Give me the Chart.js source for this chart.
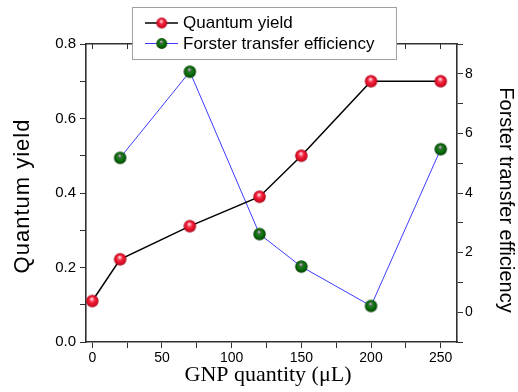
<!DOCTYPE html>
<html>
<head>
<meta charset="utf-8">
<script src="https://cdn.jsdelivr.net/npm/chart.js@4.4.1/dist/chart.umd.min.js"></script>
<style>
	html, body { margin: 0; padding: 0; background: #fff; }
</style>
</head>
<body>
<canvas id="chart" width="518" height="392"></canvas>
<script>
// data
const gnpQuantity = [0, 20, 70, 120, 150, 200, 250];
const quantumYield = [0.11, 0.222, 0.311, 0.39, 0.50, 0.70, 0.70];
const forsterQuantity = [20, 70, 120, 150, 200, 250];
const forsterEfficiency = [5.18, 8.07, 2.62, 1.53, 0.21, 5.47];

const xTicks = [0, 25, 50, 75, 100, 125, 150, 175, 200, 225, 250];
const xTickLabels = ['0', '', '50', '', '100', '', '150', '', '200', '', '250'];
const yTicks = [0, 0.1, 0.2, 0.3, 0.4, 0.5, 0.6, 0.7, 0.8];
const yTickLabels = ['0.0', '', '0.2', '', '0.4', '', '0.6', '', '0.8'];
const y2Ticks = [-1, 0, 1, 2, 3, 4, 5, 6, 7, 8, 9];
const y2TickLabels = ['', '0', '', '2', '', '4', '', '6', '', '8', ''];

const sans = "'Liberation Sans', Arial, sans-serif",
	serif = "'Liberation Serif', 'Times New Roman', serif",
	axisColor = '#303030';

// shaded ball marker like the Origin spheres
const ball = (r, stops) => {
	const c = document.createElement('canvas'),
		s = Math.ceil(r * 2) + 2;
	c.width = c.height = s;
	const g = c.getContext('2d'),
		m = s / 2,
		grad = g.createRadialGradient(m - r * 0.1, m - r * 0.4, 0, m, m, r);
	stops.forEach(([o, col]) => grad.addColorStop(o, col));
	g.fillStyle = grad;
	g.beginPath();
	g.arc(m, m, r, 0, Math.PI * 2);
	g.fill();
	return c;
}

const redStops = [[0, '#ffffff'], [0.2, '#ff9aa8'], [0.45, '#f2243e'], [0.85, '#d80a22'], [1, '#8a0010']],
	greenStops = [[0, '#eeeeee'], [0.2, '#7a7a7a'], [0.34, '#2c6a2c'], [0.55, '#0c7c0c'], [1, '#033d03']];

const redBall = ball(6.2, redStops),
	greenBall = ball(6.2, greenStops),
	redBallSmall = ball(5.4, redStops),
	greenBallSmall = ball(5.4, greenStops);

const fixTicks = list => scale => { scale.ticks = list.map(v => ({ value: v })); };

const legendPlugin = {
	id: 'boxLegend',
	afterDraw(chart) {
		const ctx = chart.ctx;
		ctx.save();
		ctx.fillStyle = '#fff';
		ctx.fillRect(132, 7, 264, 52);
		ctx.strokeStyle = '#a0a0a0';
		ctx.lineWidth = 1;
		ctx.strokeRect(132.5, 7.5, 264, 52);

		const rows = [
			{ y: 23, line: '#000', lw: 1.5, img: redBallSmall, text: chart.data.datasets[0].label },
			{ y: 43.5, line: '#3c3cff', lw: 1, img: greenBallSmall, text: chart.data.datasets[1].label }
		];
		rows.forEach(r => {
			ctx.strokeStyle = r.line;
			ctx.lineWidth = r.lw;
			ctx.beginPath();
			ctx.moveTo(145, r.y);
			ctx.lineTo(178, r.y);
			ctx.stroke();
			ctx.drawImage(r.img, 161.7 - r.img.width / 2, r.y - r.img.height / 2);
			ctx.fillStyle = '#000';
			ctx.font = '17px ' + sans;
			ctx.textBaseline = 'middle';
			ctx.textAlign = 'left';
			ctx.fillText(r.text, 183, r.y + 0.5);
		});
		ctx.restore();
	}
};

const titlePlugin = {
	id: 'axisTitles',
	afterDraw(chart) {
		const ctx = chart.ctx;
		ctx.save();
		ctx.fillStyle = '#000';
		ctx.textAlign = 'center';
		ctx.textBaseline = 'middle';

		ctx.save();
		ctx.translate(23, 196);
		ctx.rotate(-Math.PI / 2);
		ctx.font = '22px ' + sans;
		ctx.letterSpacing = '1px';
		ctx.fillText('Quantum yield', 0, 0);
		ctx.restore();

		ctx.save();
		ctx.translate(506, 200);
		ctx.rotate(Math.PI / 2);
		ctx.font = '20px ' + sans;
		ctx.fillText('Forster transfer efficiency', 0, 0);
		ctx.restore();

		ctx.font = '22px ' + serif;
		ctx.textBaseline = 'alphabetic';
		ctx.fillText('GNP quantity (\u03BCL)', 268, 381);
		ctx.restore();
	}
};

const edge = { color: axisColor, width: 1.6 };

new Chart(document.getElementById('chart'), {
	type: 'line',
	data: {
		datasets: [{
			label: 'Quantum yield',
			data: gnpQuantity.map((x, i) => ({ x, y: quantumYield[i] })),
			xAxisID: 'x',
			yAxisID: 'y',
			borderColor: '#000',
			borderWidth: 1.5,
			pointStyle: redBall,
			pointRadius: 6,
			order: 1
		}, {
			label: 'Forster transfer efficiency',
			data: forsterQuantity.map((x, i) => ({ x, y: forsterEfficiency[i] })),
			xAxisID: 'x',
			yAxisID: 'y2',
			borderColor: '#3c3cff',
			borderWidth: 1,
			pointStyle: greenBall,
			pointRadius: 6,
			order: 2
		}]
	},
	options: {
		responsive: false,
		animation: false,
		devicePixelRatio: 1,
		layout: { padding: { top: 44, left: 0, right: 0, bottom: 0 } },
		plugins: {
			legend: { display: false },
			tooltip: { enabled: false }
		},
		scales: {
			x: {
				type: 'linear',
				position: 'bottom',
				min: -4.5,
				max: 261.7,
				afterBuildTicks: fixTicks(xTicks),
				afterFit: s => { s.height = 50; },
				border: edge,
				grid: { drawOnChartArea: false, color: axisColor, tickLength: 6 },
				ticks: {
					font: { family: sans, size: 14 },
					color: '#000',
					padding: 2,
					maxRotation: 0,
					autoSkip: false,
					callback: (v, i) => xTickLabels[i]
				}
			},
			x2: {
				type: 'linear',
				position: 'top',
				min: -4.5,
				max: 261.7,
				afterBuildTicks: fixTicks(xTicks),
				afterFit: s => { s.height = 0; },
				border: edge,
				grid: { drawOnChartArea: false, color: axisColor, tickLength: -5 },
				ticks: { display: false }
			},
			y: {
				type: 'linear',
				position: 'left',
				min: 0,
				max: 0.8,
				afterBuildTicks: fixTicks(yTicks),
				afterFit: s => { s.width = 86; },
				border: edge,
				grid: { drawOnChartArea: false, color: axisColor, tickLength: 6 },
				ticks: {
					font: { family: sans, size: 15 },
					color: '#000',
					padding: 4,
					autoSkip: false,
					callback: (v, i) => yTickLabels[i]
				}
			},
			y2: {
				type: 'linear',
				position: 'right',
				min: -1,
				max: 9,
				afterBuildTicks: fixTicks(y2Ticks),
				afterFit: s => { s.width = 61; },
				border: edge,
				grid: { drawOnChartArea: false, color: axisColor, tickLength: 6 },
				ticks: {
					font: { family: sans, size: 14 },
					color: '#000',
					padding: 2,
					autoSkip: false,
					callback: (v, i) => y2TickLabels[i]
				}
			}
		}
	},
	plugins: [legendPlugin, titlePlugin]
});
</script>
</body>
</html>
